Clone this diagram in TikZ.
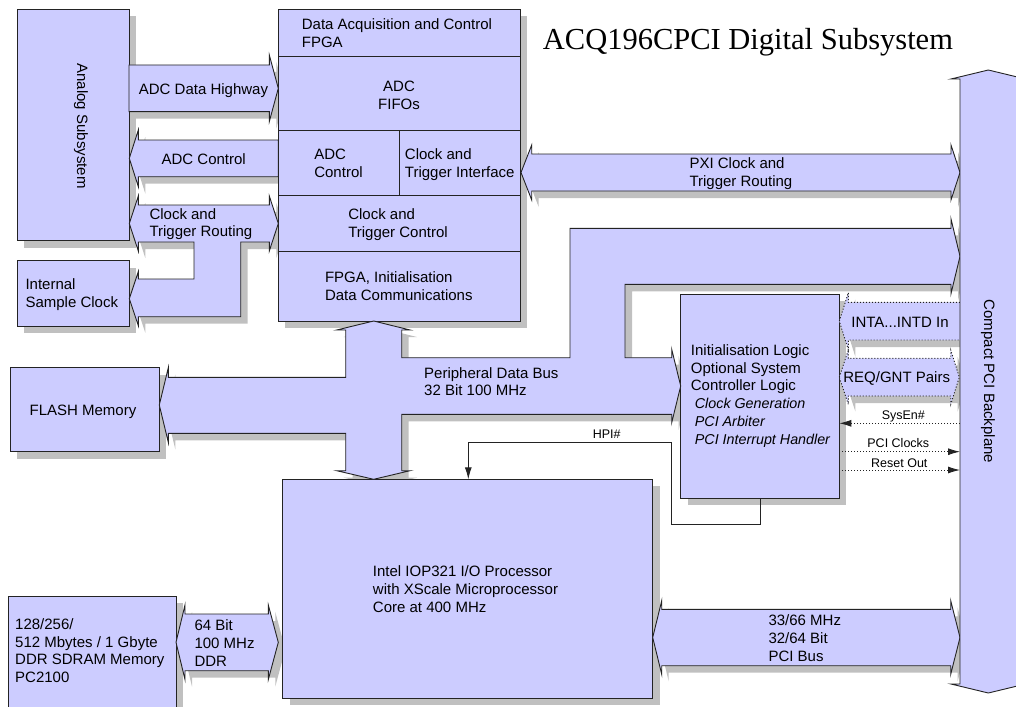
\documentclass[tikz,border=0pt]{standalone}
\usepackage{fontspec}
\setmainfont{Liberation Sans}
\newfontfamily\titlefont{Liberation Serif}
\usetikzlibrary{arrows.meta}
\definecolor{lav}{RGB}{204,204,255}
\definecolor{shd}{RGB}{192,192,192}
\definecolor{ln}{RGB}{35,35,35}
\pgfdeclarelayer{shadow}
\pgfsetlayers{shadow,main}
\newcommand\shp[2][]{%
  \begin{pgfonlayer}{shadow}\fill[shd,shift={(7,7)}] #2;\end{pgfonlayer}%
  \filldraw[fill=lav,draw=ln,line width=0.9pt,line join=miter,#1] #2;}
\newcommand\shbox[5]{%
  \begin{pgfonlayer}{shadow}\fill[shd] (#2+7,#3+7) rectangle ++(#4,#5);\end{pgfonlayer}%
  \node[box,minimum width=#4pt,minimum height=#5pt] (#1) at (#2,#3) {};}
\tikzset{
  box/.style={draw=ln,fill=lav,line width=0.9pt,anchor=north west,inner sep=0pt,outer sep=0pt},
  txt/.style={inner sep=0pt,align=left,font=\fontsize{15}{17.8}\selectfont},
  small/.style={inner sep=0pt,font=\fontsize{12.5}{15}\selectfont},
  sig/.style={draw=ln,line width=0.9pt,dash pattern=on 1.1pt off 1.9pt},
  tip/.style={-{Latex[length=12pt,width=7pt]}},
  sep/.style={draw=ln,line width=0.9pt}
}
\begin{document}
\begin{tikzpicture}[x=1pt,y=-1pt]
\useasboundingbox (0,0) rectangle (1016,706);

% ---------- boxes ----------
\shbox{analog}{17.3}{9.3}{111.7}{231.4}
\shbox{isc}{17.3}{260.7}{111.7}{65.3}
\shbox{flash}{10}{367.7}{149.3}{84}
\shbox{ddr}{8.3}{596}{167.7}{125}
\shbox{fpga}{278.3}{9.3}{241.7}{311.7}
\shbox{cpu}{282.7}{479.3}{370}{219}
\shbox{init}{680.7}{294}{158.6}{204.3}

% FPGA internal divisions
\draw[sep] (fpga.west |- 0,56) -- (fpga.east |- 0,56);
\draw[sep] (fpga.west |- 0,130.7) -- (fpga.east |- 0,130.7);
\draw[sep] (fpga.west |- 0,195.7) -- (fpga.east |- 0,195.7);
\draw[sep] (fpga.west |- 0,251.7) -- (fpga.east |- 0,251.7);
\draw[sep] (399.3,130.7) -- (399.3,195.7);

% ---------- bus arrows ----------
% ADC Data Highway
\shp{(129,65)--(269.3,65)--(269.3,55)--(278.3,88.3)--(269.3,121.6)--(269.3,111.7)--(129,111.7)--cycle}
% ADC Control
\shp{(278.3,140)--(138.3,140)--(138.3,130)--(129.3,158.3)--(138.3,186.6)--(138.3,176.7)--(278.3,176.7)--cycle}
% Clock and Trigger Routing (with branch to internal sample clock)
\shp{(129.3,223.5)--(138.3,196)--(138.3,205)--(269.3,205)--(269.3,196)--(278.3,223.5)--(269.3,251)--(269.3,242)--(240.7,242)--(240.7,316.7)--(138.3,316.7)--(138.3,325.7)--(129.3,298.7)--(138.3,271.7)--(138.3,279)--(194,279)--(194,242)--(138.3,242)--(138.3,251)--cycle}
% Peripheral data bus
\shp{(373.7,321)--(410,330)--(401.7,330)--(401.7,357.7)--(570,357.7)--(570,228.3)--(951,228.3)--(951,219)--(960,256.3)--(951,293.6)--(951,284.3)--(625,284.3)--(625,357.7)--(671.7,357.7)--(671.7,349.3)--(680.7,386)--(671.7,422.7)--(671.7,414.3)--(401.7,414.3)--(401.7,470.7)--(410,470.7)--(373.7,479.3)--(336.7,470.7)--(345.7,470.7)--(345.7,433.3)--(168.3,433.3)--(168.3,442.3)--(159.3,405)--(168.3,367.7)--(168.3,377.3)--(345.7,377.3)--(345.7,330)--(336.7,330)--cycle}
% PXI clock and trigger routing
\shp{(521,172.5)--(531.7,145)--(531.7,154)--(951,154)--(951,145)--(960,172.5)--(951,200)--(951,191)--(531.7,191)--(531.7,200)--cycle}
% INTA...INTD In
\shp[sig]{(960,302.3)--(848.3,302.3)--(848.3,292.7)--(839.3,321.2)--(848.3,349.7)--(848.3,340)--(960,340)}
% REQ/GNT Pairs
\shp[sig]{(839.3,377.2)--(848.3,350)--(848.3,358.3)--(950.7,358.3)--(950.7,350)--(959.3,377.2)--(950.7,404.4)--(950.7,396)--(848.3,396)--(848.3,404.4)--cycle}
% PCI bus
\shp{(652.7,637.5)--(661.7,600.7)--(661.7,609.3)--(950.7,609.3)--(950.7,600.7)--(960,637.5)--(950.7,674.3)--(950.7,665.7)--(661.7,665.7)--(661.7,674.3)--cycle}
% 64 Bit DDR
\shp{(176,642.3)--(185,605)--(185,614)--(268.3,614)--(268.3,605)--(278.3,642.3)--(268.3,679.6)--(268.3,670.7)--(185,670.7)--(185,679.6)--cycle}
% Compact PCI backplane
\filldraw[fill=lav,draw=ln,line width=0.9pt] (960,79)--(951,79)--(988.3,70)--(1025.6,79)--(1017,79)--(1017,684)--(1025.6,684)--(988.3,693)--(951,684)--(960,684)--cycle;

% ---------- texts ----------
\node[txt,anchor=west] at (301.7,33.3) {Data Acquisition and Control\\FPGA};
\node[txt,align=center] at (399,95) {ADC\\FIFOs};
\node[txt] at (338.5,163) {ADC\\Control};
\node[txt] at (459.7,164.6) {Clock and\\Trigger Interface};
\node[txt] at (398,225) {Clock and\\Trigger Control};
\node[txt] at (398.8,285.8) {FPGA, Initialisation\\Data Communications};

\node[txt,rotate=-90] at (81,126) {Analog Subsystem};
\node[txt,anchor=west] at (25.3,295) {Internal\\Sample Clock};
\node[txt] at (83,411.5) {FLASH Memory};
\node[txt,anchor=west] at (15,650.7) {128/256/\\512 Mbytes / 1 Gbyte\\DDR SDRAM Memory\\PC2100};

\node[txt] at (203.5,90.8) {ADC Data Highway};
\node[txt] at (203.7,159.5) {ADC Control};
\node[txt,anchor=west] at (149.3,224.1) {Clock and\\Trigger Routing};
\node[txt,anchor=west] at (689.3,173.4) {PXI Clock and\\Trigger Routing};
\node[txt,anchor=west] at (424,381.7) {Peripheral Data Bus\\32 Bit 100 MHz};
\node[txt,anchor=west] at (194.3,643) {64 Bit\\100 MHz\\DDR};
\node[txt] at (465.5,589.3) {Intel IOP321 I/O Processor\\with XScale Microprocessor\\Core at 400 MHz};
\node[txt,anchor=west] at (768.3,638.2) {33/66 MHz\\32/64 Bit\\PCI Bus};

\node[txt,anchor=west] at (690.7,395.8) {Initialisation Logic\\Optional System\\Controller Logic\\%
\hspace*{4pt}{\fontsize{14.3}{17.8}\selectfont\itshape Clock Generation}\\%
\hspace*{4pt}{\fontsize{14.3}{17.8}\selectfont\itshape PCI Arbiter}\\%
\hspace*{4pt}{\fontsize{14.3}{17.8}\selectfont\itshape PCI Interrupt Handler}};

\node[txt] at (900,322.5) {INTA...INTD In};
\node[txt] at (896.7,378) {REQ/GNT Pairs};
\node[txt,rotate=-90] at (988,381.5) {Compact PCI Backplane};

\node[anchor=base west,inner sep=0pt,font=\titlefont\fontsize{30.5}{36}\selectfont] at (542.7,50) {ACQ196CPCI Digital Subsystem};

% ---------- signal connectors ----------
\coordinate (sysE) at (960,423.3);
\coordinate (pciE) at (960,451.7);
\coordinate (rstE) at (960,470);
\draw[sig,tip] (sysE) -- (sysE -| init.east);
\draw[sig,tip] (pciE -| init.east) -- (pciE);
\draw[sig,tip] (rstE -| init.east) -- (rstE);
\node[small] at (903.3,416.8) {SysEn\#};
\node[small] at (898.3,442.7) {PCI Clocks};
\node[small] at (899.3,462.7) {Reset Out};

\coordinate (hpiA) at (671.7,524);
\coordinate (hpiB) at (468.3,442.7);
\draw[draw=ln,line width=0.9pt,-{Latex[length=12pt,width=7pt]}] (init.south) |- (hpiA) |- (hpiB) -- (hpiB |- cpu.north);
\node[small] at (606.7,434) {HPI\#};
\end{tikzpicture}
\end{document}
